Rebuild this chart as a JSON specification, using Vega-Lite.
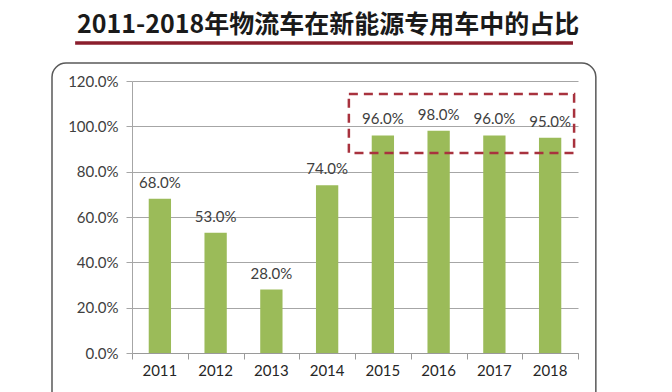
{
  "$schema": "https://vega.github.io/schema/vega-lite/v6.json",
  "width": 446,
  "height": 272,
  "autosize": {"type": "none"},
  "padding": {"left": 132, "top": 81, "right": 94, "bottom": 39},
  "background": "white",
  "config": {"view": {"stroke": null}, "font": "Lato"},
  "title": {
    "text": "2011-2018年物流车在新能源专用车中的占比",
    "font": "Noto Sans CJK SC",
    "fontSize": 25,
    "fontWeight": "bold",
    "color": "#1a1a1a",
    "anchor": "middle",
    "frame": "group",
    "baseline": "alphabetic",
    "dx": -27,
    "offset": -17
  },
  "datasets": {
    "bars": [
      {"year": "2011", "share": 0.68},
      {"year": "2012", "share": 0.53},
      {"year": "2013", "share": 0.28},
      {"year": "2014", "share": 0.74},
      {"year": "2015", "share": 0.96},
      {"year": "2016", "share": 0.98},
      {"year": "2017", "share": 0.96},
      {"year": "2018", "share": 0.95}
    ],
    "frame": [{"x0": -1.435, "x1": 8.32, "y0": 1.279, "y1": -0.25}],
    "underline": [{"x0": -1.02, "x1": 7.91, "y": 1.368}],
    "highlight": [{"x0": 3.89, "x1": 7.93, "y0": 1.143, "y1": 0.882}]
  },
  "layer": [
    {
      "data": {"name": "bars"},
      "mark": {"type": "bar", "color": "#9bbb59"},
      "encoding": {
        "x": {
          "field": "year", "type": "nominal",
          "scale": {"paddingInner": 0.6, "paddingOuter": 0.3},
          "axis": {"orient": "bottom", "title": null, "ticks": false, "domain": false, "labelAngle": 0, "labelFont": "Lato", "labelFontSize": 15, "labelColor": "#262626", "labelPadding": 10}
        },
        "y": {
          "field": "share", "type": "quantitative",
          "scale": {"domain": [0, 1.2], "nice": false},
          "axis": {"title": null, "values": [0, 0.2, 0.4, 0.6, 0.8, 1.0, 1.2], "format": ".1%", "grid": true, "gridColor": "#a6a6a6", "domainColor": "#a6a6a6", "tickColor": "#a6a6a6", "tickSize": 6, "labelFont": "Lato", "labelFontSize": 15, "labelColor": "#404040", "labelPadding": 8}
        }
      }
    },
    {
      "data": {"name": "frame"},
      "mark": {"type": "rect", "filled": false, "stroke": "#595959", "strokeWidth": 1.5, "cornerRadius": 14},
      "encoding": {
        "x": {
          "field": "x0", "type": "quantitative",
          "scale": {"domain": [0, 8], "nice": false, "zero": false},
          "axis": {"orient": "bottom", "values": [0, 1, 2, 3, 4, 5, 6, 7, 8], "labels": false, "grid": false, "ticks": true, "tickSize": 6, "tickColor": "#9a9a9a", "domainColor": "#9a9a9a", "title": null}
        },
        "x2": {"field": "x1"},
        "y": {"field": "y0", "type": "quantitative", "scale": {"domain": [0, 1.2], "nice": false}, "axis": {"title": null, "values": [0, 0.2, 0.4, 0.6, 0.8, 1.0, 1.2], "format": ".1%", "grid": true, "gridColor": "#a6a6a6", "domainColor": "#a6a6a6", "tickColor": "#a6a6a6", "tickSize": 6, "labelFont": "Lato", "labelFontSize": 15, "labelColor": "#404040", "labelPadding": 8}},
        "y2": {"field": "y1"}
      }
    },
    {
      "data": {"name": "underline"},
      "mark": {"type": "rule", "stroke": "#8b1e2d", "strokeWidth": 3.5},
      "encoding": {
        "x": {"field": "x0", "type": "quantitative", "scale": {"domain": [0, 8], "nice": false, "zero": false}, "axis": null},
        "x2": {"field": "x1"},
        "y": {"field": "y", "type": "quantitative", "scale": {"domain": [0, 1.2], "nice": false}, "axis": {"title": null, "values": [0, 0.2, 0.4, 0.6, 0.8, 1.0, 1.2], "format": ".1%", "grid": true, "gridColor": "#a6a6a6", "domainColor": "#a6a6a6", "tickColor": "#a6a6a6", "tickSize": 6, "labelFont": "Lato", "labelFontSize": 15, "labelColor": "#404040", "labelPadding": 8}}
      }
    },
    {
      "data": {"name": "highlight"},
      "mark": {"type": "rect", "filled": false, "stroke": "#a8323e", "strokeWidth": 2.5, "strokeDash": [9, 6]},
      "encoding": {
        "x": {"field": "x0", "type": "quantitative", "scale": {"domain": [0, 8], "nice": false, "zero": false}, "axis": null},
        "x2": {"field": "x1"},
        "y": {"field": "y0", "type": "quantitative", "scale": {"domain": [0, 1.2], "nice": false}, "axis": {"title": null, "values": [0, 0.2, 0.4, 0.6, 0.8, 1.0, 1.2], "format": ".1%", "grid": true, "gridColor": "#a6a6a6", "domainColor": "#a6a6a6", "tickColor": "#a6a6a6", "tickSize": 6, "labelFont": "Lato", "labelFontSize": 15, "labelColor": "#404040", "labelPadding": 8}},
        "y2": {"field": "y1"}
      }
    },
    {
      "data": {"name": "bars"},
      "mark": {"type": "text", "baseline": "alphabetic", "dy": -11, "font": "Lato", "fontSize": 15, "color": "#404040"},
      "encoding": {
        "x": {"field": "year", "type": "nominal", "scale": {"paddingInner": 0.6, "paddingOuter": 0.3}, "axis": null},
        "y": {"field": "share", "type": "quantitative", "scale": {"domain": [0, 1.2], "nice": false}, "axis": {"title": null, "values": [0, 0.2, 0.4, 0.6, 0.8, 1.0, 1.2], "format": ".1%", "grid": true, "gridColor": "#a6a6a6", "domainColor": "#a6a6a6", "tickColor": "#a6a6a6", "tickSize": 6, "labelFont": "Lato", "labelFontSize": 15, "labelColor": "#404040", "labelPadding": 8}},
        "text": {"field": "share", "type": "quantitative", "format": ".1%"}
      }
    }
  ],
  "resolve": {"scale": {"x": "independent"}, "axis": {"x": "independent"}}
}
